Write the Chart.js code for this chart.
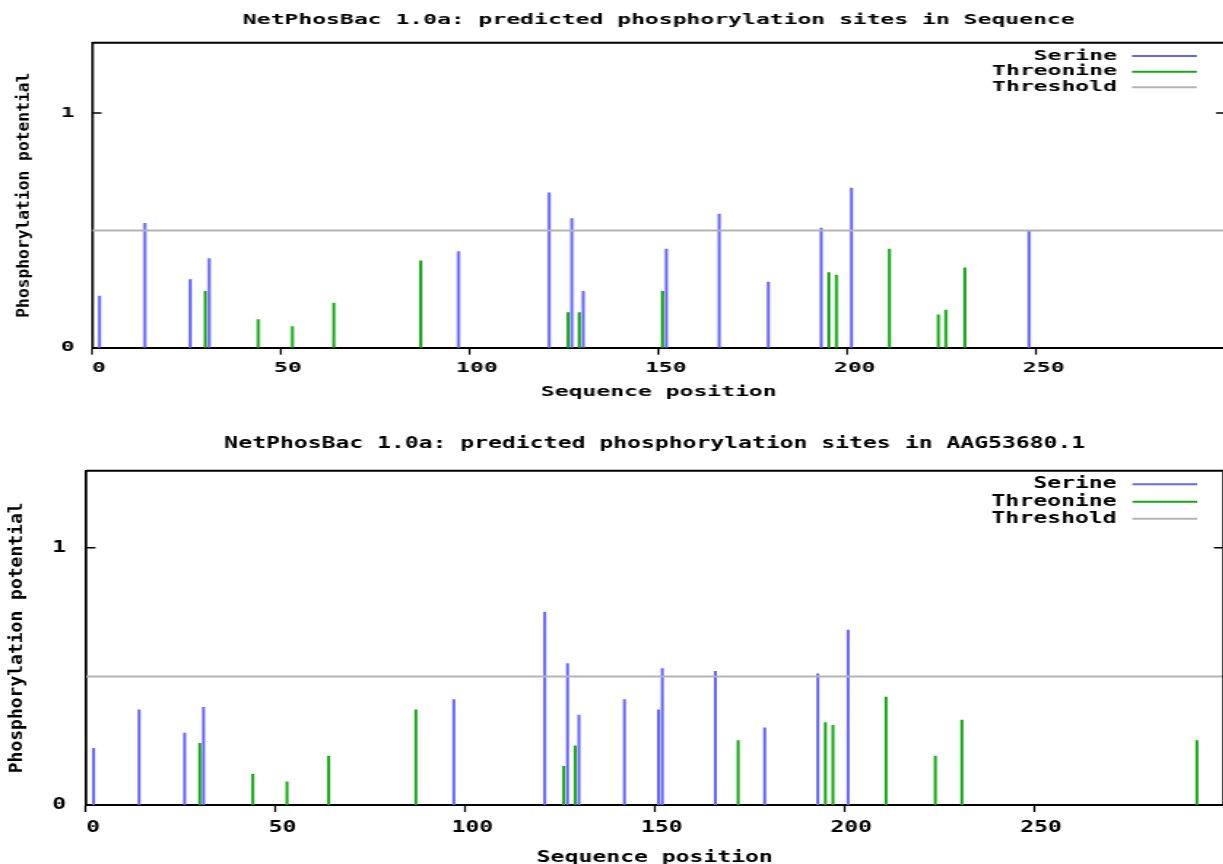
<!DOCTYPE html>
<html>
<head>
<meta charset="utf-8">
<script src="https://cdn.jsdelivr.net/npm/chart.js@4.4.1/dist/chart.umd.min.js"></script>
<style>
    html, body { margin: 0; padding: 0; background: #fff; width: 1223px; height: 864px; overflow: hidden; }
    .panel { position: absolute; left: 0; transform-origin: 0 0; }
    .panel canvas { display: block; }
</style>
</head>
<body>
<div class="panel" id="panelTop"><canvas id="chartTop" width="766" height="410"></canvas></div>
<div class="panel" id="panelBottom"><canvas id="chartBottom" width="838" height="460"></canvas></div>
<script>
// ── Data ────────────────────────────────────────────────────────
const X_MIN = 0;
const X_MAX = 300;
const Y_MAX = 1.3;
const X_TICKS = [0, 50, 100, 150, 200, 250];
const Y_TICKS = [0, 1];
const THRESHOLD = 0.5;
const SERIES_NAMES = ['Serine', 'Threonine', 'Threshold'];
const X_TITLE = 'Sequence position';
const Y_TITLE = 'Phosphorylation potential';

// chart 1: "Sequence"
const TITLE_SEQ = 'NetPhosBac 1.0a: predicted phosphorylation sites in Sequence';
const SEQ_SER_POS = [2, 14, 26, 31, 97, 121, 127, 130, 152, 166, 179, 193, 201, 248];
const SEQ_SER_VAL = [0.22, 0.53, 0.29, 0.38, 0.41, 0.66, 0.55, 0.24, 0.42, 0.57, 0.28, 0.51, 0.68, 0.50];
const SEQ_THR_POS = [30, 44, 53, 64, 87, 126, 129, 151, 195, 197, 211, 224, 226, 231];
const SEQ_THR_VAL = [0.24, 0.12, 0.09, 0.19, 0.37, 0.15, 0.15, 0.24, 0.32, 0.31, 0.42, 0.14, 0.16, 0.34];

// chart 2: AAG53680.1
const TITLE_AAG = 'NetPhosBac 1.0a: predicted phosphorylation sites in AAG53680.1';
const AAG_SER_POS = [2, 14, 26, 31, 97, 121, 127, 130, 142, 151, 152, 166, 179, 193, 201];
const AAG_SER_VAL = [0.22, 0.37, 0.28, 0.38, 0.41, 0.75, 0.55, 0.35, 0.41, 0.37, 0.53, 0.52, 0.30, 0.51, 0.68];
const AAG_THR_POS = [30, 44, 53, 64, 87, 126, 129, 172, 195, 197, 211, 224, 231, 293];
const AAG_THR_VAL = [0.24, 0.12, 0.09, 0.19, 0.37, 0.15, 0.23, 0.25, 0.32, 0.31, 0.42, 0.19, 0.33, 0.25];

// ── Style ───────────────────────────────────────────────────────
const COLOR_SER = '#6464ff';
const COLOR_THR = '#14a814';
const COLOR_THRESHOLD = '#b4b4b4';
const FONT_FAMILY = '"DejaVu Sans Mono", monospace';
const FONT_WEIGHT = 'bold';

Chart.defaults.font.family = FONT_FAMILY;
Chart.defaults.font.weight = FONT_WEIGHT;
Chart.defaults.color = '#000';

// the original png is stretched sideways, so every canvas is drawn narrow and scaled in x
const LAYOUT_TOP = {
    top: 0, scale: 1.6, fontSize: 14.4,
    axisLeft: 57.5, axisBottom: 62.3,
    titlePad: { top: 11.4, bottom: 14.0 },
    yTickPad: 10.9, yTitleX: 15.6, yTitleSize: 16.3,
    xTickPad: 4.7, xLabelOffset: 4.4, xTitlePad: 8.9,
    legend: { textRight: 67.9, lineFrom: 58.5, lineTo: 17.9, rows: [13.3, 29.0, 44.6] }
};
const LAYOUT_BOTTOM = {
    top: 412, scale: 1.46, fontSize: 15.8,
    axisLeft: 58.9, axisBottom: 67,
    titlePad: { top: 22.5, bottom: 17.2 },
    yTickPad: 13.7, yTitleX: 12.2, yTitleSize: 18,
    xTickPad: 6.5, xLabelOffset: 4.8, xTitlePad: 4.5,
    legend: { textRight: 73.3, lineFrom: 62.4, lineTo: 18.0, rows: [13.6, 31.0, 48.0] }
};

// ── Plugins ─────────────────────────────────────────────────────
// top/right border of the gnuplot box + inward y ticks
const frameBox = {
    id: 'frameBox',
    afterDraw(chart, args, opts) {
        const { ctx, chartArea: a, scales: { y } } = chart;
        ctx.save();
        ctx.strokeStyle = '#000';
        ctx.lineWidth = 2;
        ctx.beginPath();
        ctx.moveTo(a.left, a.top);
        ctx.lineTo(a.right, a.top);
        ctx.stroke();
        ctx.lineWidth = opts.vLine;
        ctx.beginPath();
        ctx.moveTo(a.right, a.top);
        ctx.lineTo(a.right, a.bottom);
        ctx.stroke();
        ctx.lineWidth = 1.6;
        ctx.beginPath();
        Y_TICKS.filter(v => v > 0).forEach(v => {
            const py = y.getPixelForValue(v);
            ctx.moveTo(a.left, py);
            ctx.lineTo(a.left + opts.tick, py);
            ctx.moveTo(a.right, py);
            ctx.lineTo(a.right - opts.tick, py);
        });
        ctx.stroke();
        ctx.restore();
    }
};

// y title drawn un-stretched (rotated text is not widened in the original)
const yTitle = {
    id: 'yTitle',
    afterDraw(chart, args, opts) {
        const { ctx, chartArea: a } = chart;
        ctx.save();
        ctx.translate(opts.x, (a.top + a.bottom) / 2);
        ctx.scale(1 / opts.stretch, 1);
        ctx.rotate(-Math.PI / 2);
        ctx.font = `${FONT_WEIGHT} ${opts.fontSize}px ${FONT_FAMILY}`;
        ctx.textAlign = 'center';
        ctx.textBaseline = 'middle';
        ctx.fillStyle = '#000';
        ctx.fillText(opts.text, 0, 0);
        ctx.restore();
    }
};

// legend in the gnuplot way: text right-aligned, sample line after it
const keyLegend = {
    id: 'keyLegend',
    afterDraw(chart, args, opts) {
        const { ctx, chartArea: a } = chart;
        ctx.save();
        ctx.font = `${FONT_WEIGHT} ${opts.fontSize}px ${FONT_FAMILY}`;
        ctx.textAlign = 'right';
        ctx.textBaseline = 'middle';
        ctx.fillStyle = '#000';
        ctx.lineWidth = 2;
        chart.data.datasets.forEach((ds, i) => {
            const yy = a.top + opts.rows[i];
            ctx.fillText(ds.label, a.right - opts.textRight, yy);
            ctx.strokeStyle = ds.type === 'line' ? ds.borderColor : ds.backgroundColor;
            ctx.beginPath();
            ctx.moveTo(a.right - opts.lineFrom, yy);
            ctx.lineTo(a.right - opts.lineTo, yy);
            ctx.stroke();
        });
        ctx.restore();
    }
};

function toPoints(xs, ys) {
    return xs.map((x, i) => ({ x, y: ys[i] }));
}

// ── Chart builder ───────────────────────────────────────────────
function buildChart(panelId, canvasId, title, serPos, serVal, thrPos, thrVal, L) {
    const panel = document.getElementById(panelId);
    panel.style.top = L.top + 'px';
    panel.style.transform = `scaleX(${L.scale})`;

    const font = { family: FONT_FAMILY, size: L.fontSize, weight: FONT_WEIGHT };
    const stem = 2 / L.scale;

    new Chart(document.getElementById(canvasId), {
        type: 'bar',
        data: {
            datasets: [
                { type: 'bar', label: SERIES_NAMES[0], data: toPoints(serPos, serVal), backgroundColor: COLOR_SER, barThickness: stem, grouped: false, borderWidth: 0 },
                { type: 'bar', label: SERIES_NAMES[1], data: toPoints(thrPos, thrVal), backgroundColor: COLOR_THR, barThickness: stem, grouped: false, borderWidth: 0 },
                { type: 'line', label: SERIES_NAMES[2], data: [{ x: X_MIN, y: THRESHOLD }, { x: X_MAX, y: THRESHOLD }], borderColor: COLOR_THRESHOLD, borderWidth: 2, pointRadius: 0, order: -1 }
            ]
        },
        options: {
            responsive: false,
            devicePixelRatio: 1,
            animation: false,
            layout: { padding: 0, autoPadding: false },
            plugins: {
                legend: { display: false },
                tooltip: { enabled: false },
                title: {
                    display: true, text: title, fullSize: false,
                    font, color: '#000',
                    padding: L.titlePad
                },
                frameBox: { vLine: 2.5 / L.scale, tick: 9.5 / L.scale },
                yTitle: { text: Y_TITLE, x: L.yTitleX, stretch: L.scale, fontSize: L.yTitleSize },
                keyLegend: { fontSize: L.fontSize, ...L.legend }
            },
            scales: {
                x: {
                    type: 'linear', min: X_MIN, max: X_MAX, offset: false,
                    afterBuildTicks: s => { s.ticks = X_TICKS.map(v => ({ value: v })); },
                    afterFit: s => { s.height = L.axisBottom; },
                    grid: { offset: false, drawOnChartArea: false, drawTicks: true, tickLength: 7, tickColor: '#000', tickWidth: 1.9 / L.scale },
                    border: { display: true, color: '#000', width: 2 },
                    ticks: { font, color: '#000', padding: L.xTickPad, labelOffset: L.xLabelOffset, maxRotation: 0, minRotation: 0, autoSkip: false },
                    title: { display: true, text: X_TITLE, font, color: '#000', padding: { top: 0, bottom: L.xTitlePad } }
                },
                y: {
                    type: 'linear', min: 0, max: Y_MAX,
                    afterBuildTicks: s => { s.ticks = Y_TICKS.map(v => ({ value: v })); },
                    afterFit: s => { s.width = L.axisLeft; },
                    grid: { display: false, drawTicks: false },
                    border: { display: true, color: '#000', width: 2.5 / L.scale },
                    ticks: { font, color: '#000', padding: L.yTickPad },
                    title: { display: false }
                }
            }
        },
        plugins: [frameBox, yTitle, keyLegend]
    });
}

buildChart('panelTop', 'chartTop', TITLE_SEQ, SEQ_SER_POS, SEQ_SER_VAL, SEQ_THR_POS, SEQ_THR_VAL, LAYOUT_TOP);
buildChart('panelBottom', 'chartBottom', TITLE_AAG, AAG_SER_POS, AAG_SER_VAL, AAG_THR_POS, AAG_THR_VAL, LAYOUT_BOTTOM);
</script>
</body>
</html>
